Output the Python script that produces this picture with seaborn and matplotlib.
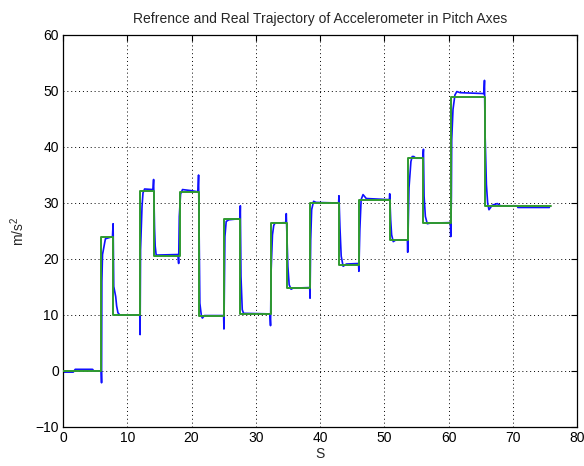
import matplotlib
matplotlib.use("Agg")
import matplotlib.pyplot as plt
import seaborn as sns
import pandas as pd

# Reference (commanded) trajectory: change times and levels (step-post)
ref_t = [0, 5.95, 7.8, 12.0, 14.2, 18.2, 21.1, 25.1, 27.6, 32.3, 34.8, 38.4,
         43.0, 46.1, 50.9, 53.7, 56.1, 60.4, 65.7, 75.9]
ref_v = [0, 24.0, 10.0, 32.2, 20.6, 32.0, 9.9, 27.1, 10.2, 26.5, 14.9, 30.0,
         19.0, 30.6, 23.4, 38.0, 26.5, 49.0, 29.4, 29.4]

# Real (measured) trajectory
real_t = [0, 1.6, 1.9, 4.6, 4.8, 5.95, 6.0, 6.05, 6.15, 6.6, 7.7, 7.8, 7.9, 8.2,
          8.35, 8.55, 8.85, 11.95, 12.0, 12.07, 12.3, 12.45, 12.7, 14.0, 14.1,
          14.25, 14.35, 14.5, 17.9, 18.0, 18.1, 18.3, 18.6, 20.0, 21.0, 21.1,
          21.2, 21.3, 21.55, 21.7, 22.0, 25.0, 25.05, 25.2, 25.4, 25.8, 27.55,
          27.6, 27.7, 27.9, 28.1, 32.2, 32.3, 32.4, 32.6, 32.8, 33.0, 34.7,
          34.75, 35.0, 35.2, 35.5, 35.8, 38.4, 38.45, 38.55, 38.7, 39.0, 39.4,
          42.9, 42.95, 43.1, 43.3, 43.6, 44.1, 46.0, 46.05, 46.2, 46.4, 46.7,
          47.2, 50.8, 50.85, 51.0, 51.15, 51.4, 51.8, 53.6, 53.65, 53.85,
          54.15, 54.35, 54.6, 54.9, 56.0, 56.1, 56.2, 56.4, 56.7, 57.1, 60.3,
          60.35, 60.45, 60.5, 60.7, 61.0, 61.3, 61.8, 65.3, 65.5, 65.6, 65.7,
          65.9, 66.1, 66.3, 66.8, 67.6, 68.1, 70.7, 70.8, 75.7]
real_v = [-0.2, -0.2, 0.3, 0.3, 0.0, 0.0, -2.1, 16.0, 20.8, 23.6, 24.0, 26.3,
          15.1, 13.3, 11.6, 10.4, 10.0, 10.0, 6.5, 21.7, 29.4, 31.8, 32.5,
          32.4, 34.2, 25.5, 22.3, 20.7, 20.8, 19.2, 27.6, 31.6, 32.4, 32.2,
          32.0, 35.0, 23.4, 12.1, 9.75, 9.45, 9.9, 9.9, 7.5, 24.0, 26.7, 27.0,
          27.2, 29.5, 16.9, 10.95, 10.3, 10.2, 8.1, 18.1, 24.3, 26.0, 26.4,
          26.5, 28.1, 18.7, 15.4, 14.6, 14.8, 14.9, 13.0, 23.4, 28.8, 30.3,
          30.1, 30.0, 31.3, 25.8, 20.5, 18.7, 19.1, 19.2, 17.8, 25.2, 30.6,
          31.5, 30.8, 30.6, 31.65, 27.0, 24.3, 23.1, 23.4, 23.4, 21.2, 32.7,
          37.4, 38.3, 38.3, 38.0, 38.0, 39.6, 31.2, 27.6, 26.3, 26.4, 26.5,
          24.0, 31.2, 41.3, 46.7, 49.3, 49.9, 49.7, 49.55, 49.5, 51.9, 42.0,
          33.3, 29.9, 28.8, 29.6, 29.9, 29.5, 29.5, 29.2, 29.2]

x_ticks = [0, 10, 20, 30, 40, 50, 60, 70, 80]
y_ticks = [-10, 0, 10, 20, 30, 40, 50, 60]

title = "Refrence and Real Trajectory of Accelerometer in Pitch Axes"
xlabel = "S"
ylabel = "m/s$^2$"

sns.set_style("white")
plt.rcParams["font.family"] = ["Liberation Sans", "DejaVu Sans"]
plt.rcParams["mathtext.fontset"] = "custom"
plt.rcParams["mathtext.rm"] = "Liberation Sans"
plt.rcParams["mathtext.it"] = "Liberation Sans"

fig = plt.figure(figsize=(5.84, 4.66), dpi=100)
ax = fig.add_axes([63 / 584, 1 - 427 / 466, (577 - 63) / 584, (427 - 35) / 466])

real_df = pd.DataFrame({"t": real_t, "v": real_v})
ref_df = pd.DataFrame({"t": ref_t, "v": ref_v})

sns.lineplot(data=real_df, x="t", y="v", ax=ax, color="#1010ff", linewidth=1.2,
             estimator=None, sort=False, zorder=2)
sns.lineplot(data=ref_df, x="t", y="v", ax=ax, color="#2f9a2f", linewidth=1.4,
             estimator=None, sort=False, drawstyle="steps-post", zorder=3)

ax.set_xlim(0, 80)
ax.set_ylim(-10, 60)
ax.set_xticks(x_ticks)
ax.set_yticks(y_ticks)
ax.grid(True, color="black", linestyle=(0, (1, 3)), linewidth=0.7)
ax.tick_params(direction="in", length=4, width=0.8, top=True, right=True,
               labelsize=10, colors="black", pad=3)
for s in ax.spines.values():
    s.set_color("black")
    s.set_linewidth(0.9)
ax.set_title(title, fontsize=10, pad=9)
ax.set_xlabel(xlabel, fontsize=10, labelpad=1)
ax.set_ylabel(ylabel, fontsize=10, labelpad=6)

fig.savefig("out.png", dpi=100)
